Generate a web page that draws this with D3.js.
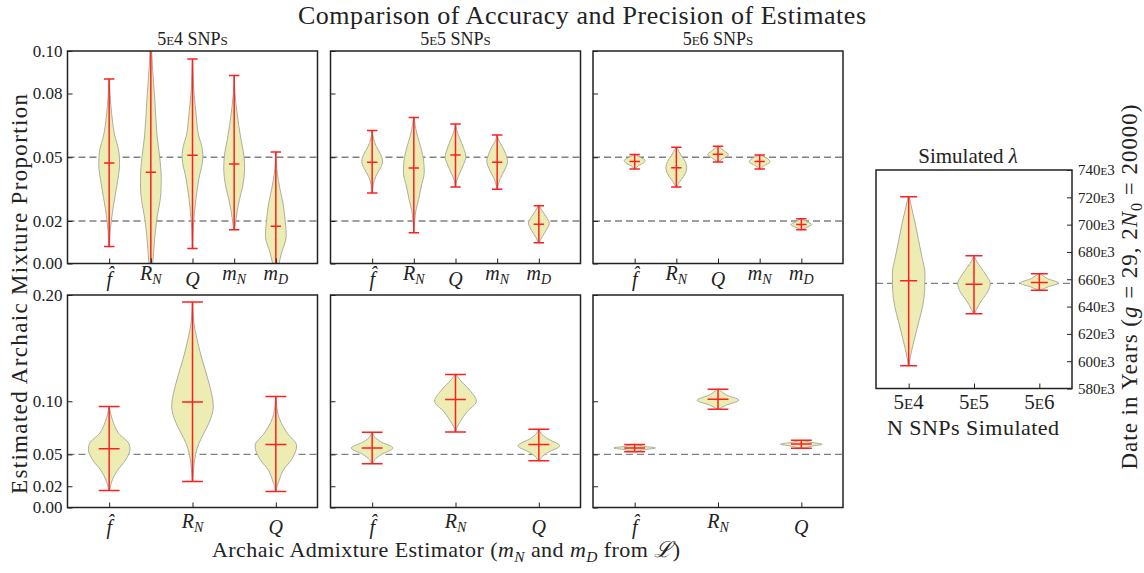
<!DOCTYPE html>
<html>
<head>
<meta charset="utf-8">
<script src="https://cdn.jsdelivr.net/npm/d3@7"></script>
<style>
    body { margin: 0; background: #fff; }
    svg text { font-family: "Liberation Serif", "Times New Roman", serif; fill: #222; }
</style>
</head>
<body>
<div id="main"></div>
<script>
// ---- data ----
const snpLabels = ["5e4", "5e5", "5e6"];
const estimatorBase = ["f\u0302", "R", "Q", "m", "m"];
const estimatorSub = ["", "N", "", "N", "D"];
const topTicks = [0, 0.02, 0.05, 0.08, 0.10];
const bottomTicks = [0, 0.02, 0.05, 0.10, 0.20];
const topTruth = [0.05, 0.02];
const bottomTruth = [0.05];
const dateTicks = [580e3, 600e3, 620e3, 640e3, 660e3, 680e3, 700e3, 720e3, 740e3];
const dateTruth = [657000];

// each violin: min, mean, max and a density profile [value, relative width]
const top5e4 = [
    { min: 0.008, mean: 0.0473, max: 0.0868, shape: [[0.008, 0.03], [0.014, 0.08], [0.02, 0.2], [0.026, 0.37], [0.037, 0.75], [0.047, 1.0], [0.052, 0.95], [0.061, 0.5], [0.069, 0.27], [0.08, 0.08], [0.0868, 0.02]] },
    { min: -0.012, mean: 0.043, max: 0.106, shape: [[-0.012, 0.1], [0.0, 0.18], [0.006, 0.27], [0.02, 0.55], [0.033, 0.96], [0.04, 1.0], [0.05, 0.85], [0.06, 0.6], [0.077, 0.38], [0.093, 0.15], [0.106, 0.03]] },
    { min: 0.0071, mean: 0.0509, max: 0.0962, shape: [[0.0071, 0.02], [0.015, 0.06], [0.02, 0.12], [0.03, 0.32], [0.04, 0.62], [0.05, 1.0], [0.055, 0.9], [0.06, 0.6], [0.07, 0.35], [0.08, 0.15], [0.09, 0.05], [0.0962, 0.01]] },
    { min: 0.0159, mean: 0.0468, max: 0.0885, shape: [[0.0159, 0.05], [0.02, 0.15], [0.03, 0.5], [0.036, 0.8], [0.045, 1.0], [0.05, 0.95], [0.06, 0.6], [0.07, 0.3], [0.08, 0.08], [0.0885, 0.01]] },
    { min: -0.004, mean: 0.0175, max: 0.0525, shape: [[-0.004, 0.15], [0.0, 0.3], [0.005, 0.55], [0.013, 1.0], [0.02, 0.9], [0.028, 0.7], [0.035, 0.4], [0.039, 0.25], [0.045, 0.08], [0.0525, 0.01]] }
];
const top5e5 = [
    { min: 0.0332, mean: 0.0476, max: 0.0626, shape: [[0.0332, 0.02], [0.037, 0.1], [0.041, 0.35], [0.045, 0.8], [0.048, 1.0], [0.051, 0.85], [0.055, 0.4], [0.059, 0.12], [0.0626, 0.02]] },
    { min: 0.0145, mean: 0.045, max: 0.0687, shape: [[0.0145, 0.02], [0.02, 0.08], [0.025, 0.2], [0.03, 0.45], [0.036, 0.7], [0.043, 1.0], [0.048, 0.95], [0.055, 0.65], [0.06, 0.35], [0.065, 0.13], [0.0687, 0.02]] },
    { min: 0.036, mean: 0.0511, max: 0.0656, shape: [[0.036, 0.03], [0.039, 0.12], [0.043, 0.45], [0.047, 0.8], [0.05, 1.0], [0.054, 0.8], [0.059, 0.4], [0.063, 0.1], [0.0656, 0.02]] },
    { min: 0.0349, mean: 0.0476, max: 0.0605, shape: [[0.0349, 0.03], [0.038, 0.15], [0.042, 0.5], [0.046, 0.9], [0.048, 1.0], [0.051, 0.85], [0.055, 0.5], [0.058, 0.15], [0.0605, 0.02]] },
    { min: 0.0098, mean: 0.0185, max: 0.0272, shape: [[0.0098, 0.03], [0.012, 0.25], [0.016, 0.75], [0.019, 1.0], [0.022, 0.7], [0.025, 0.3], [0.0272, 0.03]] }
];
const top5e6 = [
    { min: 0.0445, mean: 0.048, max: 0.0513, shape: [[0.0445, 0.05], [0.046, 0.35], [0.0475, 0.9], [0.0485, 1.0], [0.0498, 0.6], [0.0513, 0.05]] },
    { min: 0.036, mean: 0.0451, max: 0.0547, shape: [[0.036, 0.03], [0.038, 0.25], [0.041, 0.7], [0.045, 1.0], [0.048, 0.85], [0.051, 0.45], [0.0547, 0.03]] },
    { min: 0.0478, mean: 0.0514, max: 0.0552, shape: [[0.0478, 0.03], [0.0495, 0.5], [0.0512, 1.0], [0.053, 0.6], [0.0552, 0.03]] },
    { min: 0.0445, mean: 0.048, max: 0.0511, shape: [[0.0445, 0.05], [0.046, 0.4], [0.0478, 1.0], [0.049, 0.85], [0.0511, 0.05]] },
    { min: 0.0159, mean: 0.0184, max: 0.0211, shape: [[0.0159, 0.05], [0.017, 0.5], [0.0183, 1.0], [0.0196, 0.55], [0.0211, 0.05]] }
];
const bottom5e4 = [
    { min: 0.016, mean: 0.0554, max: 0.095, shape: [[0.016, 0.02], [0.02, 0.06], [0.03, 0.25], [0.035, 0.4], [0.045, 0.8], [0.055, 1.0], [0.06, 0.95], [0.07, 0.45], [0.08, 0.2], [0.09, 0.05], [0.095, 0.01]] },
    { min: 0.0245, mean: 0.0994, max: 0.1934, shape: [[0.0245, 0.01], [0.03, 0.03], [0.04, 0.07], [0.05, 0.15], [0.06, 0.3], [0.07, 0.55], [0.08, 0.8], [0.095, 1.0], [0.12, 0.75], [0.14, 0.45], [0.16, 0.2], [0.175, 0.06], [0.1934, 0.01]] },
    { min: 0.0151, mean: 0.0592, max: 0.1044, shape: [[0.0151, 0.02], [0.02, 0.06], [0.025, 0.15], [0.035, 0.35], [0.045, 0.75], [0.058, 1.0], [0.07, 0.55], [0.08, 0.25], [0.09, 0.08], [0.1044, 0.01]] }
];
const bottom5e5 = [
    { min: 0.0412, mean: 0.056, max: 0.0708, shape: [[0.0412, 0.03], [0.045, 0.12], [0.05, 0.45], [0.056, 1.0], [0.062, 0.4], [0.067, 0.1], [0.0708, 0.02]] },
    { min: 0.0711, mean: 0.1016, max: 0.1252, shape: [[0.0711, 0.02], [0.075, 0.06], [0.08, 0.2], [0.09, 0.55], [0.1, 1.0], [0.11, 0.7], [0.12, 0.22], [0.1252, 0.02]] },
    { min: 0.044, mean: 0.0594, max: 0.0736, shape: [[0.044, 0.03], [0.047, 0.12], [0.052, 0.45], [0.058, 1.0], [0.065, 0.4], [0.07, 0.1], [0.0736, 0.02]] }
];
const bottom5e6 = [
    { min: 0.0525, mean: 0.056, max: 0.0594, shape: [[0.0525, 0.05], [0.0545, 0.5], [0.056, 1.0], [0.0575, 0.5], [0.0594, 0.05]] },
    { min: 0.0925, mean: 0.1019, max: 0.1113, shape: [[0.0925, 0.05], [0.096, 0.35], [0.101, 1.0], [0.106, 0.4], [0.1113, 0.05]] },
    { min: 0.0557, mean: 0.0598, max: 0.0632, shape: [[0.0557, 0.05], [0.0578, 0.5], [0.0595, 1.0], [0.0612, 0.5], [0.0632, 0.05]] }
];
const lambdaSim = [
    { min: 596600, mean: 658900, max: 720400, shape: [[596600, 0.02], [603000, 0.1], [615000, 0.33], [628000, 0.6], [640000, 0.85], [652000, 0.98], [664000, 1.0], [676000, 0.82], [689000, 0.6], [701000, 0.4], [713000, 0.17], [720400, 0.03]] },
    { min: 634700, mean: 656400, max: 677200, shape: [[634700, 0.03], [638000, 0.15], [645000, 0.5], [651000, 0.85], [657000, 1.0], [662000, 0.8], [669000, 0.4], [674000, 0.12], [677200, 0.02]] },
    { min: 652000, mean: 657700, max: 664000, shape: [[652000, 0.1], [654500, 0.55], [657200, 1.17], [660500, 0.5], [664000, 0.08]] }
];

// ---- drawing ----
const svg = d3.select("#main").append("svg").attr("width", 1144).attr("height", 573);
const panelW = 250, panelH = 212.5;
const colLeft = [67.5, 330.5, 593];
const rowTop = [51, 295];

function rich(sel, parts, size) {
    let wasSub = false;
    parts.forEach((p) => {
        let ts = sel.append("tspan").text(p.t);
        if (p.i) ts.attr("font-style", "italic");
        if (p.sub) {
            ts.attr("font-size", size * 0.7).attr("dy", size * 0.22);
            wasSub = true;
        } else if (wasSub) {
            ts.attr("dy", -size * 0.22);
            wasSub = false;
        }
    });
}

let clipId = 0;
function violinPanel(o) {
    let g = svg.append("g").attr("transform", `translate(${o.left},${o.top})`);
    let x = d3.scaleLinear().domain(o.xDomain).range([0, o.w]);
    let y = d3.scaleLinear().domain(o.yDomain).range([o.h, 0]);
    let unit = x(1) - x(0);
    clipId++;
    g.append("clipPath").attr("id", "clip" + clipId)
        .append("rect").attr("width", o.w).attr("height", o.h);
    let inner = g.append("g").attr("clip-path", `url(#clip${clipId})`);

    // truth lines
    inner.selectAll(".truth").data(o.truths).enter().append("line")
        .attr("x1", 0).attr("x2", o.w)
        .attr("y1", (d) => y(d)).attr("y2", (d) => y(d))
        .attr("stroke", "#808080").attr("stroke-width", 1.3)
        .attr("stroke-dasharray", "7,4");

    let violins = inner.selectAll(".violin").data(o.data).enter().append("g").classed("violin", true);
    violins.append("path")
        .attr("d", (d, i) => {
            let cx = x(o.positions[i]);
            return d3.area()
                .curve(d3.curveMonotoneY)
                .y((p) => y(p[0]))
                .x0((p) => cx - p[1] * o.half * unit)
                .x1((p) => cx + p[1] * o.half * unit)(d.shape);
        })
        .attr("fill", "#ececb3")
        .attr("stroke", "#adad9f")
        .attr("stroke-width", 1);

    let red = "#ff1f1f";
    violins.append("line")
        .attr("x1", (d, i) => x(o.positions[i])).attr("x2", (d, i) => x(o.positions[i]))
        .attr("y1", (d) => y(d.min)).attr("y2", (d) => y(d.max))
        .attr("stroke", red).attr("stroke-width", 1.5);
    ["min", "max", "mean"].forEach((k) => {
        violins.append("line")
            .attr("x1", (d, i) => x(o.positions[i]) - o.cap * unit)
            .attr("x2", (d, i) => x(o.positions[i]) + o.cap * unit)
            .attr("y1", (d) => y(d[k])).attr("y2", (d) => y(d[k]))
            .attr("stroke", red).attr("stroke-width", 1.5);
    });

    // axes
    let yAxis = o.right
        ? d3.axisRight(y).tickValues(o.ticks).tickSizeInner(-5).tickSizeOuter(0).tickPadding(6)
        : d3.axisLeft(y).tickValues(o.ticks).tickSizeInner(-5).tickSizeOuter(0).tickPadding(5);
    let ya = g.append("g").attr("transform", o.right ? `translate(${o.w},0)` : null)
        .call(o.showY ? yAxis.tickFormat(o.fmt) : yAxis.tickFormat(""));
    ya.attr("font-family", null).attr("font-size", null);
    ya.select(".domain").remove();
    ya.selectAll("line").attr("stroke", "#222");
    ya.selectAll("text").style("font-size", o.tickSize + "px")
        .style("font-variant", "small-caps").attr("fill", "#222");

    let xa = g.append("g").attr("transform", `translate(0,${o.h})`)
        .call(d3.axisBottom(x).tickValues(o.positions).tickSizeInner(-5).tickSizeOuter(0).tickFormat(""));
    xa.select(".domain").remove();
    xa.selectAll("line").attr("stroke", "#222");

    g.append("rect").attr("width", o.w).attr("height", o.h)
        .attr("fill", "none").attr("stroke", "#222").attr("stroke-width", 1.5);

    // x tick labels
    o.positions.forEach((p, i) => {
        o.xLab(g, x(p), o.h + o.xLabDy, i);
    });
    return g;
}

function estimatorLabel(g, cx, cy, i) {
    let size = 20;
    let t = g.append("text").attr("x", cx).attr("y", estimatorSub[i] ? cy : cy + 6)
        .attr("text-anchor", "middle").style("font-size", size + "px");
    let parts = [{ t: estimatorBase[i], i: true }];
    if (estimatorSub[i]) parts.push({ t: estimatorSub[i], i: true, sub: true });
    rich(t, parts, size);
}

let fmt2 = d3.format(".2f");
[top5e4, top5e5, top5e6].forEach((data, c) => {
    violinPanel({
        left: colLeft[c], top: rowTop[0], w: panelW, h: panelH,
        xDomain: [0, 6], yDomain: [0, 0.1], positions: [1, 2, 3, 4, 5],
        data: data, truths: topTruth, ticks: topTicks, fmt: fmt2, showY: c === 0,
        half: 0.25, cap: 0.125, tickSize: 17, xLabDy: 16,
        xLab: (g, cx, cy, i) => estimatorLabel(g, cx, cy, i)
    });
    svg.append("text").attr("x", colLeft[c] + panelW / 2).attr("y", 44.5)
        .attr("text-anchor", "middle").style("font-size", "18px")
        .style("font-variant", "small-caps")
        .text(snpLabels[c] + " SNPs");
});
[bottom5e4, bottom5e5, bottom5e6].forEach((data, c) => {
    violinPanel({
        left: colLeft[c], top: rowTop[1], w: panelW, h: panelH,
        xDomain: [0, 6], yDomain: [0, 0.2], positions: [1, 3, 5],
        data: data, truths: bottomTruth, ticks: bottomTicks, fmt: fmt2, showY: c === 0,
        half: 0.5, cap: 0.25, tickSize: 17, xLabDy: 20,
        xLab: (g, cx, cy, i) => estimatorLabel(g, cx, cy, i)
    });
});

// simulated lambda panel
violinPanel({
    left: 876, top: 170, w: 196, h: 218.5,
    xDomain: [0.5, 3.5], yDomain: [580e3, 740e3], positions: [1, 2, 3],
    data: lambdaSim, truths: dateTruth, ticks: dateTicks,
    fmt: (d) => d / 1000 + "e3", showY: true, right: true,
    half: 0.25, cap: 0.13, tickSize: 15, xLabDy: 20,
    xLab: (g, cx, cy, i) => g.append("text").attr("x", cx).attr("y", cy).attr("text-anchor", "middle")
        .style("font-size", "21px").style("font-variant", "small-caps").text(snpLabels[i])
});

// titles and axis labels
svg.append("text").attr("x", 582).attr("y", 24).attr("text-anchor", "middle")
    .style("font-size", "26px").attr("textLength", 568).attr("lengthAdjust", "spacing")
    .text("Comparison of Accuracy and Precision of Estimates");

svg.append("text").attr("transform", "translate(27,294) rotate(-90)").attr("text-anchor", "middle")
    .style("font-size", "23px").attr("textLength", 400).attr("lengthAdjust", "spacing")
    .text("Estimated Archaic Mixture Proportion");

let xl = svg.append("text").attr("x", 446).attr("y", 557).attr("text-anchor", "middle")
    .style("font-size", "22px").attr("textLength", 468).attr("lengthAdjust", "spacing");
rich(xl, [{ t: "Archaic Admixture Estimator (" }, { t: "m", i: true }, { t: "N", i: true, sub: true },
    { t: " and " }, { t: "m", i: true }, { t: "D", i: true, sub: true }, { t: " from " },
    { t: "\u2112", i: true }, { t: ")" }], 22);

svg.append("text").attr("x", 968).attr("y", 163).attr("text-anchor", "middle")
    .style("font-size", "21px")
    .call((t) => rich(t, [{ t: "Simulated " }, { t: "\u03bb", i: true }], 21));

svg.append("text").attr("x", 973).attr("y", 435).attr("text-anchor", "middle")
    .style("font-size", "22px").attr("textLength", 172).attr("lengthAdjust", "spacing")
    .text("N SNPs Simulated");

let rl = svg.append("text").attr("transform", "translate(1137,287) rotate(-90)").attr("text-anchor", "middle")
    .style("font-size", "23px").attr("textLength", 365).attr("lengthAdjust", "spacing");
rich(rl, [{ t: "Date in Years (" }, { t: "g", i: true }, { t: " = 29, 2" }, { t: "N", i: true },
    { t: "0", sub: true }, { t: " = 20000)" }], 23);
</script>
</body>
</html>
